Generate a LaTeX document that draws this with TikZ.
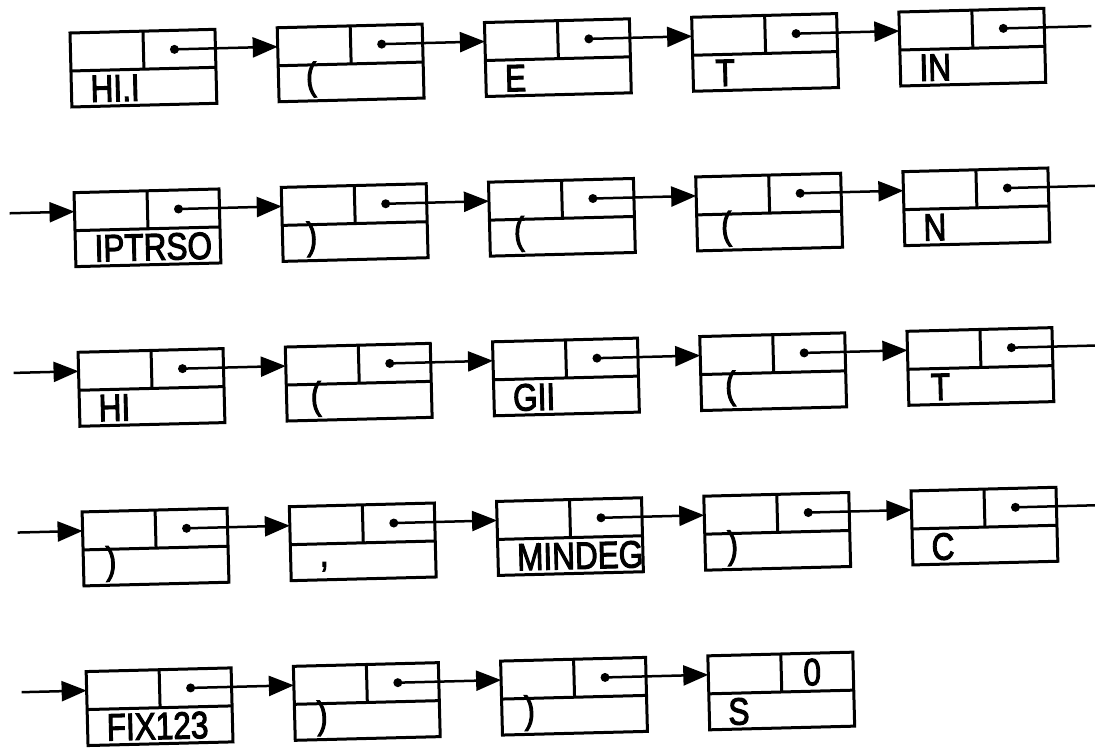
\documentclass[tikz,border=0pt]{standalone}
\usepackage{fontspec}
\newfontfamily\plotfont[FakeBold=3]{Liberation Sans}
\usetikzlibrary{arrows.meta}

\tikzset{
  cell/.style={draw, line width=3pt, minimum width=145pt, minimum height=74pt, inner sep=0pt, outer sep=0pt},
  cellline/.style={line width=3pt},
  link/.style={line width=2.5pt, -{Triangle[length=25pt,width=20pt]}},
  tail/.style={line width=2.5pt},
  lab/.style={font=\plotfont\fontsize{38}{38}\selectfont, inner sep=0pt, anchor=base west, xscale=0.83},
}

\newcommand\paren[1]{\raisebox{7pt}{#1}}

% #1 name, #2 column, #3 row, #4 bottom label
\newcommand\listbox[4]{%
  \pgfmathsetmacro\bx{207.3*#2}%
  \pgfmathsetmacro\by{-159.7*#3}%
  \node[cell] (#1) at (\bx+72.5,\by-37) {};
  \draw[cellline] (\bx,\by-38) -- (\bx+145,\by-38);
  \draw[cellline] (\bx+73,\by) -- (\bx+73,\by-38);
  \coordinate (#1-in) at (\bx,\by-19);
  \coordinate (#1-out) at (\bx+104,\by-19);
  \coordinate (#1-end) at (\bx+192,\by-19);
  \coordinate (#1-start) at (\bx-65,\by-19);
  \node[lab] (#1-t) at (\bx+19,\by-69.5) {#4};
}

\begin{document}
\begin{tikzpicture}[x=1pt,y=1pt]
\useasboundingbox (0,0) rectangle (1095,-752);
\begin{scope}[shift={(70,-33)}, rotate=1.45, transform shape]
  % row 0
  \listbox{a0}{0}{0}{HI.I}
  \listbox{a1}{1}{0}{\hspace{10pt}\paren{(}}
  \listbox{a2}{2}{0}{E}
  \listbox{a3}{3}{0}{\hspace{4pt}T}
  \listbox{a4}{4}{0}{IN}
  % row 1
  \listbox{b0}{0}{1}{IPTRSO}
  \listbox{b1}{1}{1}{\hspace{6pt}\paren{)}}
  \listbox{b2}{2}{1}{\hspace{6pt}\paren{(}}
  \listbox{b3}{3}{1}{\hspace{6pt}\paren{(}}
  \listbox{b4}{4}{1}{N}
  % row 2
  \listbox{c0}{0}{2}{HI}
  \listbox{c1}{1}{2}{\hspace{6pt}\paren{(}}
  \listbox{c2}{2}{2}{GII}
  \listbox{c3}{3}{2}{\hspace{6pt}\paren{(}}
  \listbox{c4}{4}{2}{\hspace{4pt}T}
  % row 3
  \listbox{d0}{0}{3}{\hspace{4pt}\paren{)}}
  \listbox{d1}{1}{3}{\hspace{12pt}\raisebox{9pt}{,}}
  \listbox{d2}{2}{3}{MINDEG}
  \listbox{d3}{3}{3}{\hspace{4pt}\paren{)}}
  \listbox{d4}{4}{3}{C}
  % row 4
  \listbox{e0}{0}{4}{FIX123}
  \listbox{e1}{1}{4}{\hspace{4pt}\paren{)}}
  \listbox{e2}{2}{4}{\hspace{4pt}\paren{)}}
  \listbox{e3}{3}{4}{S}
  \node[lab] (e3-p) at (207.3*3+95,-159.7*4-32) {0};

  % pointer dots
  \foreach \n in {a0,a1,a2,a3,a4,b0,b1,b2,b3,b4,c0,c1,c2,c3,c4,d0,d1,d2,d3,d4,e0,e1,e2}
    \fill (\n-out) circle (4.5pt);

  % links within rows
  \foreach \r in {a,b,c,d} {
    \draw[link] (\r0-out) -- (\r1-in);
    \draw[link] (\r1-out) -- (\r2-in);
    \draw[link] (\r2-out) -- (\r3-in);
    \draw[link] (\r3-out) -- (\r4-in);
    \draw[tail] (\r4-out) -- (\r4-end);
  }
  \draw[link] (e0-out) -- (e1-in);
  \draw[link] (e1-out) -- (e2-in);
  \draw[link] (e2-out) -- (e3-in);

  % continuation arrows at row starts
  \draw[link] (b0-start) -- (b0-in);
  \draw[link] (c0-start) -- (c0-in);
  \draw[link] (d0-start) -- (d0-in);
  \draw[link] (e0-start) -- (e0-in);
\end{scope}
\end{tikzpicture}
\end{document}
